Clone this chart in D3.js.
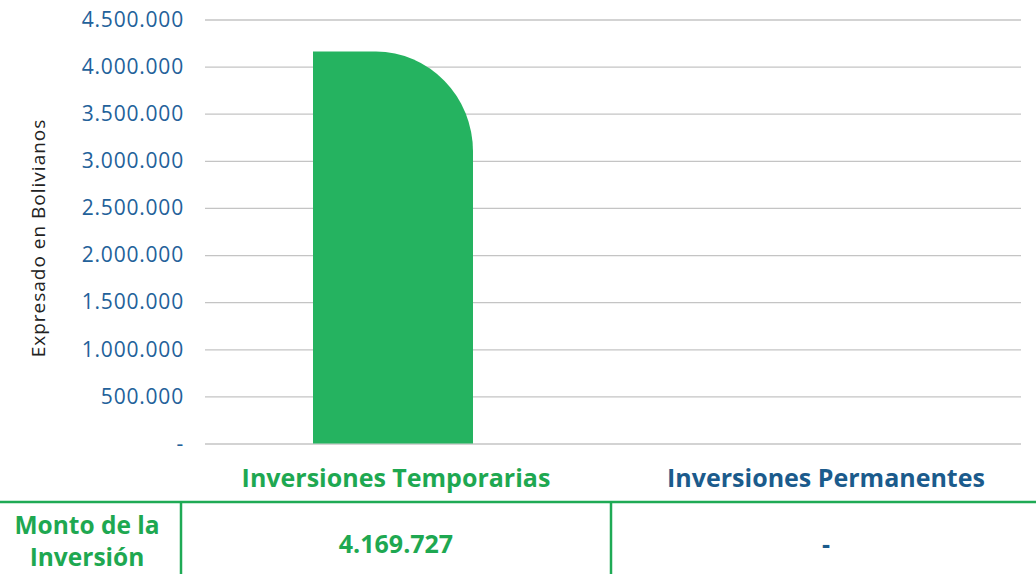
<!DOCTYPE html>
<html>
<head>
<meta charset="utf-8">
<script src="https://cdn.jsdelivr.net/npm/d3@7"></script>
<style>
  body { margin: 0; background: #fff; }
  svg { display: block; }
  text { font-family: "Open Sans", "Noto Sans", sans-serif; }
</style>
</head>
<body>
<svg id="chart"></svg>
<script>
const categories = ['Inversiones Temporarias', 'Inversiones Permanentes'];
const values = [4169727, 0];
const tableLabels = ['4.169.727', '-'];
const rowTitle = ['Monto de la', 'Inversión'];
const yTicks = [0, 500000, 1000000, 1500000, 2000000, 2500000, 3000000, 3500000, 4000000, 4500000];
const catColors = ['#1ea851', '#1b5b8c'];

const width = 1036;
const height = 574;
const green = '#25b360';
const tickBlue = '#23619a';

const locale = d3.formatLocale({ decimal: ',', thousands: '.', grouping: [3], currency: ['', ''] });
const fmt = locale.format(',d');

const yScale = d3.scaleLinear()
      .domain([0, 4500000])
      .range([443.5, 19.5]);

const xScale = d3.scalePoint()
      .domain(categories)
      .range([181, 1041])
      .padding(0.5);

const barWidth = 160;

const chart = d3.select('#chart')
      .attr('width', width)
      .attr('height', height);

// gridlines + tick labels
const yAxis = d3.axisLeft(yScale)
      .tickValues(yTicks)
      .tickSize(-816)
      .tickPadding(21)
      .tickFormat(d => d === 0 ? '-' : fmt(d));

const gy = chart.append('g')
    .attr('transform', 'translate(205,0)')
    .call(yAxis);
gy.select('.domain').remove();
gy.selectAll('.tick line').attr('stroke', '#c4c4c4').attr('stroke-width', 1.3);
gy.selectAll('.tick text')
    .attr('fill', tickBlue)
    .attr('font-size', 21)
    .attr('letter-spacing', 0.8)
    .attr('font-family', '"Open Sans", sans-serif');

chart.append('text')
    .attr('transform', 'translate(45,238) rotate(-90)')
    .attr('text-anchor', 'middle')
    .attr('font-size', 19)
    .attr('letter-spacing', 1)
    .attr('fill', '#222')
    .text('Expresado en Bolivianos');

// bar with rounded top-right corner
const rx = 97, ry = 100;
chart.selectAll('path.bar')
    .data(values.map((v, i) => ({ v, c: categories[i] })).filter(d => d.v > 0))
    .enter()
    .append('path')
    .attr('class', 'bar')
    .attr('fill', green)
    .attr('d', d => {
      const x0 = xScale(d.c) - 3 - barWidth / 2;
      const x1 = x0 + barWidth;
      const y0 = yScale(d.v) + 1;
      const yb = yScale(0);
      return `M${x0},${yb}V${y0}H${x1 - rx}A${rx},${ry} 0 0 1 ${x1},${y0 + ry}V${yb}Z`;
    });

// category labels
chart.selectAll('text.cat')
    .data(categories)
    .enter()
    .append('text')
    .attr('class', 'cat')
    .attr('x', d => xScale(d))
    .attr('y', 487)
    .attr('text-anchor', 'middle')
    .attr('font-size', 25)
    .attr('font-weight', 'bold')
    .attr('fill', (_, i) => catColors[i])
    .text(d => d);

// table
chart.append('line')
    .attr('x1', 0).attr('x2', width)
    .attr('y1', 502).attr('y2', 502)
    .attr('stroke', '#1faa55').attr('stroke-width', 2.5);
chart.selectAll('line.vsep')
    .data([181, 611])
    .enter()
    .append('line')
    .attr('class', 'vsep')
    .attr('x1', d => d).attr('x2', d => d)
    .attr('y1', 502).attr('y2', height)
    .attr('stroke', '#1faa55').attr('stroke-width', 2.5);

chart.selectAll('text.row')
    .data(rowTitle)
    .enter()
    .append('text')
    .attr('class', 'row')
    .attr('x', 87)
    .attr('y', (_, i) => 534 + i * 32)
    .attr('text-anchor', 'middle')
    .attr('font-size', 24.5)
    .attr('font-weight', 'bold')
    .attr('fill', '#1ea851')
    .text(d => d);

chart.selectAll('text.val')
    .data(tableLabels)
    .enter()
    .append('text')
    .attr('class', 'val')
    .attr('x', (_, i) => xScale(categories[i]))
    .attr('y', 553)
    .attr('text-anchor', 'middle')
    .attr('font-size', 25)
    .attr('font-weight', 'bold')
    .attr('fill', (_, i) => catColors[i])
    .text(d => d);
</script>
</body>
</html>
